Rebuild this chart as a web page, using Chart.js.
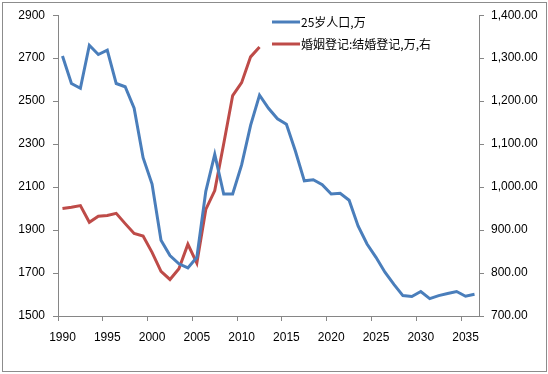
<!DOCTYPE html>
<html>
<head>
<meta charset="utf-8">
<script src="https://cdn.jsdelivr.net/npm/chart.js@4/dist/chart.umd.min.js"></script>
<style>
    body { margin: 0; background: #fff; }
    #wrap { position: relative; width: 548px; height: 374px; }
    #frame { position: absolute; left: 2px; top: 2px; width: 543px; height: 368px; border: 1px solid #8c8c8c; pointer-events: none; }
</style>
</head>
<body>
<div id="wrap">
    <canvas id="popChart" width="548" height="374"></canvas>
    <div id="frame"></div>
</div>
<script>
// years on the x axis
var years = [];
for (var yr = 1990; yr <= 2036; yr++) years.push(yr);

// 25岁人口,万 (left axis), 1990-2036
var pop25 = [2710, 2582, 2560, 2760, 2717, 2737, 2582, 2567, 2467, 2237,
             2114, 1853, 1781, 1743, 1724, 1773, 2080, 2252, 2068, 2068,
             2203, 2387, 2528, 2467, 2418, 2392, 2268, 2129, 2134, 2111,
             2068, 2071, 2039, 1919, 1835, 1773, 1704, 1647, 1595, 1591,
             1614, 1581, 1595, 1605, 1614, 1592, 1601];

// 婚姻登记:结婚登记,万 (right axis), 1990-2012
var marriages = [950, 953, 957, 918, 932, 934, 939, 915, 892, 886,
                 848, 804, 785, 810, 867, 823, 948, 992, 1101, 1213,
                 1243, 1303, 1326];

var seriesNames = ['25岁人口,万', '婚姻登记:结婚登记,万,右'];
var leftTicks = [1500, 2900, 200];
var rightTicks = [700, 1400, 100];

var axisGray = '#868686';
var tickFont = {family: '"Liberation Sans", Arial, sans-serif', size: 12};

function money(v) {
    var s = v.toFixed(2);
    return s.replace(/\B(?=(\d{3})+(?!\d))/g, ',');
}

// legend drawn inside the plot, stacked like the original
var innerLegend = {
    id: 'innerLegend',
    afterDraw: function (chart) {
        var ctx = chart.ctx;
        ctx.save();
        ctx.font = '12px "Noto Sans CJK SC", sans-serif';
        ctx.textBaseline = 'middle';
        ctx.fillStyle = '#000';
        chart.data.datasets.forEach(function (ds, i) {
            var y = 22 + i * 22;
            ctx.strokeStyle = ds.borderColor;
            ctx.lineWidth = 3;
            ctx.beginPath();
            ctx.moveTo(272, y);
            ctx.lineTo(300, y);
            ctx.stroke();
            ctx.fillText(ds.label, 301, y);
        });
        ctx.restore();
    }
};

var ctxPop = document.getElementById('popChart').getContext('2d');
new Chart(ctxPop, {
    type: 'line',
    data: {
        labels: years,
        datasets: [
            {label: seriesNames[0], data: pop25, yAxisID: 'y', borderColor: '#4a7ebb', borderWidth: 3, pointRadius: 0, tension: 0},
            {label: seriesNames[1], data: marriages, yAxisID: 'y1', borderColor: '#be4b48', borderWidth: 3, pointRadius: 0, tension: 0}
        ]
    },
    options: {
        responsive: false,
        animation: false,
        layout: {padding: {top: 12, left: 0, right: 0, bottom: 0}},
        plugins: {legend: {display: false}, tooltip: {enabled: false}},
        scales: {
            x: {
                type: 'category',
                offset: true,
                afterFit: function (s) { s.height = 58; },
                border: {color: axisGray},
                grid: {
                    offset: true,
                    drawOnChartArea: false,
                    tickLength: 5,
                    color: function (c) { return c.index % 5 === 0 ? axisGray : 'rgba(0,0,0,0)'; }
                },
                ticks: {
                    autoSkip: false, maxRotation: 0, padding: 9, color: '#000', font: tickFont,
                    callback: function (v, i) { return years[i] % 5 === 0 ? String(years[i]) : ''; }
                }
            },
            y: {
                position: 'left',
                min: leftTicks[0], max: leftTicks[1],
                afterFit: function (s) { s.width = 58; },
                border: {color: axisGray},
                grid: {drawOnChartArea: false, tickLength: 5, color: axisGray},
                ticks: {stepSize: leftTicks[2], padding: 8, color: '#000', font: tickFont,
                        callback: function (v) { return String(v); }}
            },
            y1: {
                position: 'right',
                min: rightTicks[0], max: rightTicks[1],
                afterFit: function (s) { s.width = 69; },
                border: {color: axisGray},
                grid: {drawOnChartArea: false, tickLength: 5, color: axisGray},
                ticks: {stepSize: rightTicks[2], padding: 7, color: '#000', font: tickFont,
                        callback: function (v) { return money(v); }}
            }
        }
    },
    plugins: [innerLegend]
});
</script>
</body>
</html>
